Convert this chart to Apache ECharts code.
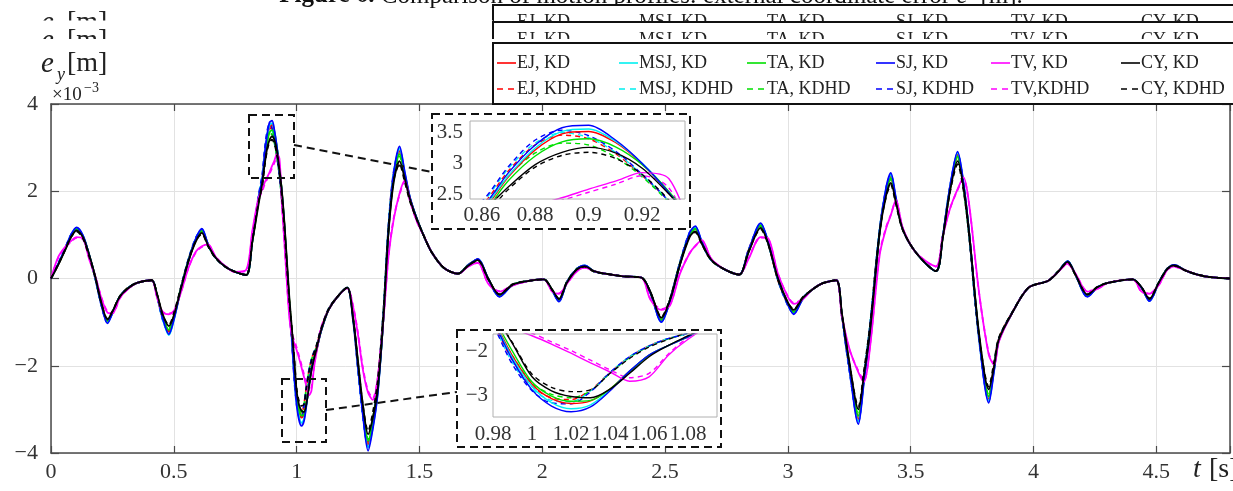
<!DOCTYPE html>
<html><head><meta charset="utf-8">
<script src="https://cdn.jsdelivr.net/npm/echarts@6/dist/echarts.min.js"></script>
<style>html,body{margin:0;padding:0;background:#fff}#c{width:1233px;height:491px}</style>
</head><body><div id="c"></div>
<script>
// time samples [s]
const t = [
0, 0.03, 0.06, 0.08, 0.104, 0.13, 0.155, 0.18, 0.205, 0.23,
0.25, 0.28, 0.31, 0.35, 0.41, 0.43, 0.455, 0.48, 0.5, 0.53,
0.56, 0.59, 0.614, 0.64, 0.67, 0.71, 0.75, 0.795, 0.82, 0.845,
0.86, 0.87, 0.88, 0.89, 0.9, 0.91, 0.92, 0.93, 0.94, 0.95,
0.96, 0.97, 0.98, 0.99, 1.0, 1.01, 1.02, 1.03, 1.04, 1.05,
1.06, 1.07, 1.08, 1.1, 1.13, 1.166, 1.206, 1.23, 1.25, 1.27,
1.291, 1.31, 1.33, 1.354, 1.374, 1.395, 1.419, 1.44, 1.462, 1.49,
1.516, 1.55, 1.6, 1.657, 1.7, 1.738, 1.78, 1.826, 1.88, 1.95,
2.007, 2.04, 2.068, 2.1, 2.14, 2.173, 2.21, 2.256, 2.33, 2.404,
2.44, 2.485, 2.52, 2.56, 2.6, 2.623, 2.65, 2.688, 2.742, 2.802,
2.84, 2.889, 2.92, 2.96, 3.0, 3.024, 3.06, 3.1, 3.145, 3.197,
3.22, 3.25, 3.287, 3.31, 3.334, 3.374, 3.4, 3.419, 3.44, 3.468,
3.522, 3.603, 3.63, 3.66, 3.691, 3.715, 3.738, 3.778, 3.818, 3.84,
3.859, 3.913, 3.98, 4.06, 4.1, 4.139, 4.17, 4.22, 4.26, 4.303,
4.404, 4.44, 4.472, 4.51, 4.545, 4.573, 4.62, 4.667, 4.72, 4.8];

// e_y values [x10^-3 m]
const CY_KD = [
0, 0.32, 0.68, 0.93, 1.10, 0.95, 0.55, 0.05, -0.55, -0.94,
-0.76, -0.42, -0.24, -0.10, -0.04, -0.32, -0.82, -1.09, -0.85, -0.22,
0.40, 0.85, 1.045, 0.75, 0.48, 0.27, 0.15, 0.08, 0.85, 1.70,
2.20, 2.62, 2.98, 3.18, 3.26, 3.17, 2.92, 2.50, 2.00, 1.30,
0.45, -0.40, -1.10, -1.82, -2.58, -2.90, -3.03, -3.06, -2.86, -2.50,
-2.12, -1.86, -1.64, -1.18, -0.72, -0.42, -0.21, -0.90, -1.90, -2.90,
-3.57, -3.20, -2.55, -0.86, 1.05, 2.20, 2.69, 2.30, 1.81, 1.35,
1.00, 0.60, 0.24, 0.11, 0.30, 0.42, 0.00, -0.37, -0.14, -0.05,
-0.02, -0.25, -0.47, -0.10, 0.20, 0.28, 0.17, 0.11, 0.05, 0.02,
-0.30, -0.90, -0.50, 0.30, 0.95, 1.08, 0.80, 0.43, 0.21, 0.09,
0.60, 1.16, 0.80, 0.00, -0.55, -0.72, -0.45, -0.25, -0.10, -0.04,
-0.80, -1.90, -3.00, -2.20, -1.24, 1.05, 1.90, 2.19, 1.75, 1.12,
0.59, 0.17, 0.90, 2.00, 2.69, 2.10, 1.05, -1.24, -2.54, -2.00,
-1.40, -0.79, -0.21, -0.05, 0.15, 0.38, 0.10, -0.37, -0.20, -0.10,
-0.02, -0.20, -0.47, -0.10, 0.22, 0.30, 0.18, 0.09, 0.03, 0.00];

const SJ_KD = [
0, 0.34, 0.72, 0.99, 1.17, 0.99, 0.55, 0.03, -0.60, -1.03,
-0.80, -0.42, -0.24, -0.10, -0.04, -0.35, -0.92, -1.28, -0.95, -0.22,
0.42, 0.92, 1.14, 0.78, 0.48, 0.27, 0.15, 0.08, 0.88, 1.85,
2.28, 2.85, 3.30, 3.58, 3.62, 3.38, 3.00, 2.52, 1.95, 1.20,
0.30, -0.58, -1.30, -2.20, -2.88, -3.25, -3.38, -3.27, -2.90, -2.45,
-2.08, -1.86, -1.66, -1.20, -0.72, -0.42, -0.21, -0.95, -2.05, -3.15,
-3.95, -3.45, -2.65, -0.86, 1.12, 2.40, 3.03, 2.45, 1.85, 1.36,
1.00, 0.60, 0.24, 0.11, 0.31, 0.45, 0.00, -0.42, -0.15, -0.05,
-0.02, -0.27, -0.53, -0.10, 0.21, 0.30, 0.17, 0.11, 0.05, 0.02,
-0.32, -1.00, -0.52, 0.32, 1.05, 1.20, 0.84, 0.43, 0.21, 0.09,
0.63, 1.27, 0.84, 0.00, -0.60, -0.82, -0.48, -0.25, -0.10, -0.04,
-0.85, -2.05, -3.34, -2.35, -1.24, 1.10, 2.08, 2.42, 1.85, 1.13,
0.59, 0.17, 0.93, 2.10, 2.91, 2.20, 1.05, -1.35, -2.85, -2.10,
-1.42, -0.79, -0.21, -0.05, 0.15, 0.40, 0.10, -0.42, -0.21, -0.10,
-0.02, -0.21, -0.52, -0.10, 0.22, 0.31, 0.18, 0.09, 0.03, 0.00];

const MSJ_KD = [
0, 0.34, 0.71, 0.98, 1.16, 0.98, 0.55, 0.03, -0.59, -1.01,
-0.79, -0.42, -0.24, -0.10, -0.04, -0.35, -0.93, -1.30, -0.96, -0.22,
0.42, 0.91, 1.13, 0.78, 0.48, 0.27, 0.15, 0.08, 0.87, 1.83,
2.25, 2.80, 3.25, 3.52, 3.56, 3.36, 3.00, 2.53, 1.97, 1.22,
0.32, -0.56, -1.28, -2.15, -2.80, -3.17, -3.31, -3.22, -2.88, -2.45,
-2.08, -1.86, -1.66, -1.20, -0.72, -0.42, -0.21, -0.94, -2.03, -3.10,
-3.88, -3.42, -2.63, -0.86, 1.11, 2.37, 2.98, 2.43, 1.84, 1.36,
1.00, 0.60, 0.24, 0.11, 0.31, 0.44, 0.00, -0.41, -0.15, -0.05,
-0.02, -0.27, -0.52, -0.10, 0.21, 0.30, 0.17, 0.11, 0.05, 0.02,
-0.32, -0.99, -0.52, 0.32, 1.04, 1.18, 0.83, 0.43, 0.21, 0.09,
0.62, 1.26, 0.83, 0.00, -0.59, -0.80, -0.48, -0.25, -0.10, -0.04,
-0.84, -2.03, -3.28, -2.33, -1.24, 1.10, 2.06, 2.38, 1.83, 1.13,
0.59, 0.17, 0.93, 2.08, 2.88, 2.18, 1.05, -1.34, -2.80, -2.08,
-1.42, -0.79, -0.21, -0.05, 0.15, 0.40, 0.10, -0.41, -0.21, -0.10,
-0.02, -0.21, -0.51, -0.10, 0.22, 0.31, 0.18, 0.09, 0.03, 0.00];

const EJ_KD = [
0, 0.33, 0.70, 0.96, 1.14, 0.97, 0.55, 0.04, -0.58, -0.99,
-0.78, -0.42, -0.24, -0.10, -0.04, -0.34, -0.89, -1.22, -0.92, -0.22,
0.41, 0.89, 1.10, 0.77, 0.48, 0.27, 0.15, 0.08, 0.86, 1.80,
2.22, 2.78, 3.22, 3.48, 3.52, 3.34, 2.99, 2.53, 1.97, 1.24,
0.35, -0.52, -1.25, -2.10, -2.75, -3.08, -3.19, -3.13, -2.86, -2.45,
-2.08, -1.86, -1.66, -1.20, -0.72, -0.42, -0.21, -0.93, -2.00, -3.05,
-3.80, -3.38, -2.60, -0.86, 1.09, 2.32, 2.92, 2.40, 1.83, 1.36,
1.00, 0.60, 0.24, 0.11, 0.31, 0.44, 0.00, -0.40, -0.15, -0.05,
-0.02, -0.26, -0.51, -0.10, 0.21, 0.29, 0.17, 0.11, 0.05, 0.02,
-0.31, -0.97, -0.51, 0.31, 1.02, 1.16, 0.82, 0.43, 0.21, 0.09,
0.62, 1.24, 0.82, 0.00, -0.58, -0.79, -0.47, -0.25, -0.10, -0.04,
-0.83, -2.00, -3.22, -2.30, -1.24, 1.09, 2.03, 2.34, 1.81, 1.13,
0.59, 0.17, 0.92, 2.06, 2.84, 2.16, 1.05, -1.32, -2.76, -2.06,
-1.41, -0.79, -0.21, -0.05, 0.15, 0.39, 0.10, -0.40, -0.21, -0.10,
-0.02, -0.21, -0.50, -0.10, 0.22, 0.31, 0.18, 0.09, 0.03, 0.00];

const TA_KD = [
0, 0.33, 0.69, 0.95, 1.13, 0.97, 0.55, 0.04, -0.57, -0.97,
-0.78, -0.42, -0.24, -0.10, -0.04, -0.33, -0.87, -1.18, -0.90, -0.22,
0.41, 0.88, 1.09, 0.77, 0.48, 0.27, 0.15, 0.08, 0.85, 1.77,
2.18, 2.72, 3.12, 3.35, 3.40, 3.27, 2.98, 2.54, 1.98, 1.26,
0.38, -0.48, -1.20, -2.00, -2.70, -3.02, -3.14, -3.12, -2.86, -2.46,
-2.09, -1.86, -1.66, -1.20, -0.72, -0.42, -0.21, -0.92, -1.96, -3.00,
-3.72, -3.33, -2.58, -0.86, 1.08, 2.28, 2.85, 2.37, 1.83, 1.36,
1.00, 0.60, 0.24, 0.11, 0.31, 0.43, 0.00, -0.39, -0.15, -0.05,
-0.02, -0.26, -0.50, -0.10, 0.21, 0.29, 0.17, 0.11, 0.05, 0.02,
-0.31, -0.95, -0.51, 0.31, 1.00, 1.14, 0.82, 0.43, 0.21, 0.09,
0.61, 1.22, 0.82, 0.00, -0.57, -0.77, -0.46, -0.25, -0.10, -0.04,
-0.82, -1.97, -3.15, -2.26, -1.24, 1.08, 2.00, 2.30, 1.79, 1.13,
0.59, 0.17, 0.92, 2.04, 2.80, 2.14, 1.05, -1.30, -2.70, -2.04,
-1.41, -0.79, -0.21, -0.05, 0.15, 0.39, 0.10, -0.39, -0.21, -0.10,
-0.02, -0.21, -0.49, -0.10, 0.22, 0.30, 0.18, 0.09, 0.03, 0.00];

const TV_KD = [
0, 0.50, 0.74, 0.85, 0.95, 0.92, 0.45, 0.05, -0.45, -0.78,
-0.80, -0.45, -0.26, -0.10, -0.04, -0.40, -0.78, -0.82, -0.75, -0.30,
0.25, 0.62, 0.74, 0.78, 0.50, 0.28, 0.15, 0.20, 1.10, 1.85,
2.05, 2.20, 2.32, 2.44, 2.58, 2.71, 2.85, 2.75, 1.75, 0.85,
-0.05, -0.85, -1.30, -1.48, -1.64, -1.83, -2.04, -2.26, -2.47, -2.68,
-2.58, -2.08, -1.72, -1.15, -0.72, -0.42, -0.22, -0.65, -1.30, -2.10,
-2.62, -2.78, -2.30, -0.90, 0.50, 1.35, 1.95, 2.25, 1.80, 1.30,
1.00, 0.60, 0.24, 0.11, 0.28, 0.36, -0.12, -0.30, -0.16, -0.05,
-0.02, -0.30, -0.35, -0.12, 0.16, 0.25, 0.17, 0.11, 0.05, 0.02,
-0.48, -0.72, -0.62, 0.10, 0.58, 0.75, 0.88, 0.45, 0.21, 0.09,
0.45, 0.95, 0.92, 0.10, -0.42, -0.58, -0.48, -0.25, -0.10, -0.04,
-0.86, -1.60, -2.15, -2.37, -1.60, 0.55, 1.15, 1.45, 1.80, 1.15,
0.59, 0.28, 0.95, 1.60, 2.05, 2.32, 1.70, -0.30, -1.75, -1.98,
-1.45, -0.79, -0.21, -0.05, 0.15, 0.34, 0.12, -0.30, -0.24, -0.10,
-0.02, -0.30, -0.35, -0.15, 0.20, 0.28, 0.18, 0.09, 0.03, 0.00];

const SJ_KDHD = [
0, 0.35, 0.73, 0.99, 1.15, 0.96, 0.52, 0.00, -0.62, -1.01,
-0.78, -0.41, -0.23, -0.10, -0.04, -0.37, -0.95, -1.24, -0.90, -0.18,
0.45, 0.94, 1.12, 0.75, 0.47, 0.27, 0.15, 0.08, 0.92, 1.90,
2.38, 2.95, 3.38, 3.54, 3.45, 3.20, 2.82, 2.38, 1.80, 1.05,
0.15, -0.72, -1.40, -2.30, -2.90, -3.18, -3.20, -2.92, -2.48, -2.12,
-1.87, -1.70, -1.58, -1.15, -0.70, -0.42, -0.21, -0.98, -2.10, -3.18,
-3.85, -3.30, -2.45, -0.70, 1.22, 2.45, 2.95, 2.35, 1.80, 1.35,
1.00, 0.60, 0.24, 0.11, 0.32, 0.44, -0.02, -0.41, -0.14, -0.05,
-0.02, -0.28, -0.52, -0.08, 0.22, 0.29, 0.16, 0.11, 0.05, 0.02,
-0.34, -0.98, -0.48, 0.36, 1.06, 1.17, 0.80, 0.42, 0.21, 0.09,
0.66, 1.25, 0.80, -0.04, -0.62, -0.80, -0.45, -0.25, -0.10, -0.04,
-0.88, -2.10, -3.28, -2.25, -1.10, 1.15, 2.08, 2.38, 1.80, 1.12,
0.59, 0.17, 0.96, 2.12, 2.86, 2.12, 0.98, -1.40, -2.80, -2.00,
-1.38, -0.78, -0.21, -0.05, 0.16, 0.39, 0.09, -0.42, -0.20, -0.10,
-0.02, -0.22, -0.51, -0.09, 0.23, 0.30, 0.18, 0.09, 0.03, 0.00];

const MSJ_KDHD = [
0, 0.35, 0.72, 0.98, 1.14, 0.96, 0.52, 0.00, -0.61, -1.00,
-0.78, -0.41, -0.23, -0.10, -0.04, -0.37, -0.95, -1.25, -0.91, -0.18,
0.45, 0.93, 1.11, 0.75, 0.47, 0.27, 0.15, 0.08, 0.91, 1.88,
2.35, 2.92, 3.33, 3.50, 3.42, 3.18, 2.81, 2.38, 1.80, 1.06,
0.17, -0.70, -1.38, -2.26, -2.86, -3.12, -3.15, -2.90, -2.48, -2.12,
-1.87, -1.70, -1.58, -1.15, -0.70, -0.42, -0.21, -0.97, -2.08, -3.14,
-3.82, -3.28, -2.44, -0.70, 1.21, 2.43, 2.93, 2.34, 1.80, 1.35,
1.00, 0.60, 0.24, 0.11, 0.32, 0.44, -0.02, -0.41, -0.14, -0.05,
-0.02, -0.28, -0.51, -0.08, 0.22, 0.29, 0.16, 0.11, 0.05, 0.02,
-0.34, -0.97, -0.48, 0.36, 1.05, 1.16, 0.80, 0.42, 0.21, 0.09,
0.65, 1.24, 0.80, -0.04, -0.61, -0.79, -0.45, -0.25, -0.10, -0.04,
-0.87, -2.08, -3.24, -2.24, -1.10, 1.15, 2.06, 2.36, 1.79, 1.12,
0.59, 0.17, 0.96, 2.10, 2.84, 2.11, 0.98, -1.39, -2.77, -1.99,
-1.38, -0.78, -0.21, -0.05, 0.16, 0.39, 0.09, -0.41, -0.20, -0.10,
-0.02, -0.22, -0.50, -0.09, 0.23, 0.30, 0.18, 0.09, 0.03, 0.00];

const EJ_KDHD = [
0, 0.34, 0.71, 0.97, 1.13, 0.95, 0.52, 0.01, -0.60, -0.98,
-0.77, -0.41, -0.23, -0.10, -0.04, -0.36, -0.92, -1.20, -0.88, -0.18,
0.44, 0.91, 1.09, 0.75, 0.47, 0.27, 0.15, 0.08, 0.90, 1.86,
2.32, 2.88, 3.30, 3.46, 3.40, 3.16, 2.80, 2.38, 1.82, 1.08,
0.20, -0.66, -1.35, -2.20, -2.80, -3.06, -3.10, -2.88, -2.48, -2.12,
-1.87, -1.70, -1.58, -1.15, -0.70, -0.42, -0.21, -0.96, -2.05, -3.10,
-3.75, -3.25, -2.42, -0.70, 1.20, 2.40, 2.88, 2.32, 1.79, 1.35,
1.00, 0.60, 0.24, 0.11, 0.32, 0.43, -0.02, -0.40, -0.14, -0.05,
-0.02, -0.27, -0.50, -0.08, 0.22, 0.29, 0.16, 0.11, 0.05, 0.02,
-0.33, -0.95, -0.48, 0.35, 1.03, 1.14, 0.80, 0.42, 0.21, 0.09,
0.65, 1.22, 0.80, -0.04, -0.60, -0.78, -0.45, -0.25, -0.10, -0.04,
-0.86, -2.05, -3.18, -2.22, -1.10, 1.14, 2.03, 2.32, 1.77, 1.12,
0.59, 0.17, 0.95, 2.08, 2.80, 2.09, 0.98, -1.37, -2.72, -1.98,
-1.38, -0.78, -0.21, -0.05, 0.16, 0.38, 0.09, -0.40, -0.20, -0.10,
-0.02, -0.22, -0.49, -0.09, 0.23, 0.30, 0.18, 0.09, 0.03, 0.00];

const TA_KDHD = [
0, 0.34, 0.70, 0.96, 1.12, 0.95, 0.52, 0.01, -0.59, -0.96,
-0.77, -0.41, -0.23, -0.10, -0.04, -0.35, -0.90, -1.15, -0.86, -0.18,
0.44, 0.90, 1.08, 0.75, 0.47, 0.27, 0.15, 0.08, 0.89, 1.84,
2.26, 2.80, 3.17, 3.33, 3.30, 3.10, 2.78, 2.36, 1.80, 1.08,
0.22, -0.62, -1.30, -2.10, -2.72, -2.98, -3.06, -2.90, -2.50, -2.14,
-1.88, -1.71, -1.58, -1.15, -0.70, -0.42, -0.21, -0.95, -2.02, -3.05,
-3.68, -3.22, -2.40, -0.70, 1.19, 2.36, 2.80, 2.30, 1.78, 1.35,
1.00, 0.60, 0.24, 0.11, 0.32, 0.43, -0.02, -0.39, -0.14, -0.05,
-0.02, -0.27, -0.49, -0.08, 0.22, 0.29, 0.16, 0.11, 0.05, 0.02,
-0.33, -0.93, -0.48, 0.35, 1.02, 1.12, 0.80, 0.42, 0.21, 0.09,
0.64, 1.20, 0.80, -0.04, -0.59, -0.76, -0.45, -0.25, -0.10, -0.04,
-0.85, -2.03, -3.12, -2.20, -1.10, 1.13, 2.00, 2.28, 1.76, 1.12,
0.59, 0.17, 0.95, 2.06, 2.76, 2.07, 0.98, -1.35, -2.67, -1.96,
-1.38, -0.78, -0.21, -0.05, 0.16, 0.38, 0.09, -0.39, -0.20, -0.10,
-0.02, -0.22, -0.48, -0.09, 0.23, 0.29, 0.18, 0.09, 0.03, 0.00];

const CY_KDHD = [
0, 0.33, 0.69, 0.94, 1.08, 0.92, 0.51, 0.02, -0.57, -0.92,
-0.75, -0.41, -0.23, -0.10, -0.04, -0.33, -0.85, -1.06, -0.80, -0.18,
0.43, 0.87, 1.02, 0.73, 0.47, 0.27, 0.15, 0.08, 0.88, 1.76,
2.12, 2.58, 2.94, 3.13, 3.18, 3.08, 2.82, 2.40, 1.85, 1.14,
0.30, -0.52, -1.10, -1.80, -2.52, -2.82, -2.92, -2.88, -2.50, -2.16,
-1.90, -1.72, -1.55, -1.15, -0.70, -0.42, -0.21, -0.93, -1.95, -2.92,
-3.50, -3.08, -2.35, -0.70, 1.15, 2.25, 2.62, 2.22, 1.76, 1.34,
1.00, 0.60, 0.24, 0.11, 0.31, 0.41, -0.02, -0.36, -0.13, -0.05,
-0.02, -0.26, -0.46, -0.08, 0.21, 0.27, 0.16, 0.11, 0.05, 0.02,
-0.32, -0.88, -0.46, 0.34, 0.97, 1.06, 0.78, 0.42, 0.21, 0.09,
0.63, 1.13, 0.78, -0.04, -0.56, -0.70, -0.43, -0.25, -0.10, -0.04,
-0.83, -1.95, -2.94, -2.10, -1.10, 1.10, 1.88, 2.14, 1.70, 1.11,
0.59, 0.17, 0.94, 1.98, 2.62, 2.02, 0.98, -1.30, -2.48, -1.90,
-1.36, -0.78, -0.21, -0.05, 0.16, 0.37, 0.09, -0.36, -0.19, -0.10,
-0.02, -0.21, -0.45, -0.09, 0.22, 0.29, 0.18, 0.09, 0.03, 0.00];

const TV_KDHD = [
0, 0.48, 0.72, 0.83, 0.93, 0.90, 0.48, 0.06, -0.43, -0.76,
-0.80, -0.46, -0.26, -0.10, -0.04, -0.38, -0.76, -0.80, -0.74, -0.30,
0.25, 0.60, 0.72, 0.76, 0.50, 0.28, 0.15, 0.18, 1.05, 1.80,
2.00, 2.16, 2.28, 2.40, 2.53, 2.66, 2.80, 2.60, 1.70, 0.85,
-0.05, -0.82, -1.25, -1.42, -1.58, -1.78, -1.98, -2.20, -2.42, -2.60,
-2.50, -2.05, -1.68, -1.12, -0.72, -0.42, -0.22, -0.63, -1.26, -2.05,
-2.58, -2.74, -2.28, -0.88, 0.52, 1.38, 1.92, 2.22, 1.76, 1.30,
1.00, 0.60, 0.24, 0.11, 0.28, 0.36, -0.11, -0.29, -0.16, -0.05,
-0.02, -0.29, -0.34, -0.12, 0.16, 0.25, 0.17, 0.11, 0.05, 0.02,
-0.46, -0.70, -0.60, 0.12, 0.58, 0.74, 0.86, 0.45, 0.21, 0.09,
0.47, 0.94, 0.90, 0.10, -0.41, -0.56, -0.47, -0.25, -0.10, -0.04,
-0.88, -1.62, -2.12, -2.33, -1.55, 0.58, 1.18, 1.46, 1.78, 1.15,
0.59, 0.27, 0.97, 1.60, 2.03, 2.28, 1.68, -0.32, -1.72, -1.95,
-1.43, -0.79, -0.21, -0.05, 0.15, 0.33, 0.12, -0.29, -0.24, -0.10,
-0.02, -0.31, -0.34, -0.15, 0.20, 0.27, 0.18, 0.09, 0.03, 0.00];

const kdNames   = ['EJ, KD', 'MSJ, KD', 'TA, KD', 'SJ, KD', 'TV, KD', 'CY, KD'];
const kdhdNames = ['EJ, KDHD', 'MSJ, KDHD', 'TA, KDHD', 'SJ, KDHD', 'TV,KDHD', 'CY, KDHD'];
const kdData    = [EJ_KD, MSJ_KD, TA_KD, SJ_KD, TV_KD, CY_KD];
const kdhdData  = [EJ_KDHD, MSJ_KDHD, TA_KDHD, SJ_KDHD, TV_KDHD, CY_KDHD];
const xTicksMain = [0, 0.5, 1, 1.5, 2, 2.5, 3, 3.5, 4, 4.5];
const inset1X = [0.86, 0.88, 0.9, 0.92];
const inset1Y = [2.5, 3, 3.5];
const inset2X = [0.98, 1, 1.02, 1.04, 1.06, 1.08];
const inset2Y = [-3, -2];

// ---------- styling / layout ----------
const colors = ['#ff0000', '#00f0f0', '#00e000', '#0000ff', '#ff00ff', '#000000'];
const SERIF = '"Liberation Serif", "DejaVu Serif", serif';
const neg = v => (v < 0 ? '\u2212' + String(-v) : String(v));

const G0 = {left: 51, top: 104, width: 1186, height: 349};
const G1 = {left: 470, top: 121, width: 215, height: 78};
const G2 = {left: 493, top: 334, width: 224, height: 83};

function pairs(arr) { return t.map((x, i) => [x, arr[i]]); }

const series = [];
function addSeries(ax, lw, z) {
  const order = [];
  for (let i = 0; i < 6; i++) order.push({name: kdhdNames[i], data: kdhdData[i], c: colors[i], dash: true});
  for (let i = 0; i < 6; i++) order.push({name: kdNames[i], data: kdData[i], c: colors[i], dash: false});
  const cyD = order.splice(5, 1)[0];
  const cy = order.splice(10, 1)[0];
  order.push(cyD, cy);
  order.forEach(s => {
    series.push({
      type: 'line', name: s.name, xAxisIndex: ax, yAxisIndex: ax,
      data: pairs(s.data), showSymbol: false, symbol: 'none', smooth: 0.3,
      animation: false, z: z, silent: true, clip: true,
      lineStyle: {color: s.c, width: lw, type: s.dash ? [5, 4] : 'solid'}
    });
  });
}
addSeries(0, 1.8, 2);
addSeries(1, 1.4, 4);
addSeries(2, 1.4, 4);

const axisDark = {color: '#4a4a4a', width: 1.5};
const labelMain = {color: '#333', fontSize: 22, fontFamily: SERIF};
const insetLab = {color: '#333', fontSize: 21, fontFamily: SERIF};

const xAxis = [
  {type: 'value', gridIndex: 0, min: 0, max: 4.8, interval: 0.5, position: 'bottom',
   axisLine: {show: true, onZero: false, lineStyle: axisDark},
   axisTick: {show: true, inside: true, length: 7, lineStyle: {color: '#4a4a4a', width: 1.2}},
   axisLabel: Object.assign({margin: 8, formatter: v => (xTicksMain.indexOf(v) >= 0 ? String(v) : '')}, labelMain),
   splitLine: {show: true, lineStyle: {color: '#e2e2e2', width: 1}}},
  {type: 'value', gridIndex: 1, min: 0.8556, max: 0.936,
   axisLine: {show: false}, axisTick: {show: false}, splitLine: {show: false},
   axisLabel: Object.assign({customValues: inset1X, margin: 6, formatter: v => String(v)}, insetLab), z: 5},
  {type: 'value', gridIndex: 2, min: 0.98, max: 1.0948,
   axisLine: {show: false}, axisTick: {show: false}, splitLine: {show: false},
   axisLabel: Object.assign({customValues: inset2X, margin: 7, formatter: v => String(v)}, insetLab), z: 5},
  {type: 'value', gridIndex: 0, min: 0, max: 4.8, interval: 0.5, position: 'top',
   axisLine: {show: true, onZero: false, lineStyle: axisDark},
   axisTick: {show: true, inside: true, length: 7, lineStyle: {color: '#4a4a4a', width: 1.2}},
   axisLabel: {show: false}, splitLine: {show: false}}
];
const yAxis = [
  {type: 'value', gridIndex: 0, min: -4, max: 4, interval: 2, position: 'left',
   axisLine: {show: true, onZero: false, lineStyle: axisDark},
   axisTick: {show: true, inside: true, length: 8, lineStyle: {color: '#4a4a4a', width: 1.2}},
   axisLabel: Object.assign({margin: 13, formatter: neg}, labelMain),
   splitLine: {show: true, lineStyle: {color: '#e2e2e2', width: 1}}},
  {type: 'value', gridIndex: 1, min: 2.42, max: 3.69,
   axisLine: {show: false}, axisTick: {show: false}, splitLine: {show: false},
   axisLabel: Object.assign({customValues: inset1Y, margin: 7, formatter: v => String(v)}, insetLab), z: 5},
  {type: 'value', gridIndex: 2, min: -3.5, max: -1.6,
   axisLine: {show: false}, axisTick: {show: false}, splitLine: {show: false},
   axisLabel: Object.assign({customValues: inset2Y, margin: 5, formatter: neg}, insetLab), z: 5},
  {type: 'value', gridIndex: 0, min: -4, max: 4, interval: 2, position: 'right',
   axisLine: {show: true, onZero: false, lineStyle: axisDark},
   axisTick: {show: true, inside: true, length: 8, lineStyle: {color: '#4a4a4a', width: 1.2}},
   axisLabel: {show: false}, splitLine: {show: false}}
];

// ---------- graphics ----------
const els = [];
function text(x, y, s, font, z, extra) {
  els.push({type: 'text', z: z, silent: true,
    style: Object.assign({x: x, y: y, text: s, font: font, fill: '#222', textAlign: 'left', textVerticalAlign: 'middle'}, extra || {})});
}
function rect(x, y, w, h, style, z) {
  els.push({type: 'rect', z: z, silent: true, shape: {x: x, y: y, width: w, height: h}, style: style});
}
function line(x1, y1, x2, y2, style, z) {
  els.push({type: 'line', z: z, silent: true, shape: {x1: x1, y1: y1, x2: x2, y2: y2}, style: style});
}
const legCols = [497, 619, 747, 876, 991, 1121];
function legendBox(boxOff, txtOff, z) {
  rect(493, 43 + boxOff, 800, 61, {fill: '#fff', stroke: '#111', lineWidth: 2}, z);
  for (let i = 0; i < 6; i++) {
    const x = legCols[i];
    line(x, 63 + txtOff, x + 19, 63 + txtOff, {stroke: colors[i], lineWidth: 1.6}, z);
    text(x + 20, 63 + txtOff, kdNames[i], '18px ' + SERIF, z);
    line(x, 89 + txtOff, x + 19, 89 + txtOff, {stroke: colors[i], lineWidth: 1.6, lineDash: [6, 5]}, z);
    text(x + 20, 89 + txtOff, kdhdNames[i], '18px ' + SERIF, z);
  }
}
function yLabel(off, sub, z) {
  text(41, 64 + off, 'e', 'italic 29px ' + SERIF, z);
  text(57, 75 + off, sub, 'italic 18px ' + SERIF, z);
  text(67, 64 + off, '[m]', '28px ' + SERIF, z);
}
// clipped title from the page
els.push({type: 'text', z: 1, silent: true, style: {x: 651, y: -4, textAlign: 'center', textVerticalAlign: 'middle',
  text: '{b|Figure 6.} Comparison of motion profiles: external coordinate error {i|e}{s|x} [m].',
  font: '25px ' + SERIF, fill: '#111',
  rich: {b: {fontWeight: 'bold', fontSize: 25, fontFamily: SERIF}, i: {fontStyle: 'italic', fontSize: 25, fontFamily: SERIF}, s: {fontSize: 15, fontFamily: SERIF, fontStyle: 'italic'}}}});
// stacked (cut-off) panels of the previous figures
yLabel(-41, 'x', 2); legendBox(-38, -41, 2);
rect(0, 20.5, 493, 24, {fill: '#fff'}, 3);
yLabel(-23, 'x', 4); legendBox(-21, -23, 4);
rect(0, 39, 1233, 5, {fill: '#fff'}, 5);
rect(0, 39, 493, 20, {fill: '#fff'}, 5);
// main legend + labels
legendBox(0, 0, 6);
yLabel(0, 'y', 7);
text(52, 95, '\u00d710', '19px ' + SERIF, 7);
text(84, 88, '\u22123', '14px ' + SERIF, 7);
text(1193, 470, 't', 'italic 28px ' + SERIF, 7);
text(1209, 470, '[s]', '28px ' + SERIF, 7);

// zoom boxes and connectors
const dash = {stroke: '#111', lineWidth: 2, lineDash: [8, 5], fill: 'transparent'};
rect(249, 115, 45, 63, dash, 3);
rect(282, 379, 44, 63, dash, 3);
line(294, 145, 432, 172, {stroke: '#111', lineWidth: 2, lineDash: [8, 5]}, 3);
line(326, 410, 457, 392, {stroke: '#111', lineWidth: 2, lineDash: [8, 5]}, 3);
rect(432, 114, 258, 115, {fill: '#fff', stroke: '#111', lineWidth: 2, lineDash: [8, 5]}, 3);
rect(457, 330, 264, 117, {fill: '#fff', stroke: '#111', lineWidth: 2, lineDash: [8, 5]}, 3);
rect(G1.left, G1.top, G1.width, G1.height, {fill: 'transparent', stroke: '#b0b0b0', lineWidth: 1}, 6);
rect(G2.left, G2.top, G2.width, G2.height, {fill: 'transparent', stroke: '#b0b0b0', lineWidth: 1}, 6);

const option = {
  animation: false,
  backgroundColor: '#fff',
  grid: [
    Object.assign({containLabel: false}, G0),
    Object.assign({containLabel: false}, G1),
    Object.assign({containLabel: false}, G2)
  ],
  xAxis: xAxis,
  yAxis: yAxis,
  series: series,
  graphic: {elements: els}
};
const chart = echarts.init(document.getElementById('c'), null, {renderer: 'canvas'});
chart.setOption(option);
</script>
</body></html>
